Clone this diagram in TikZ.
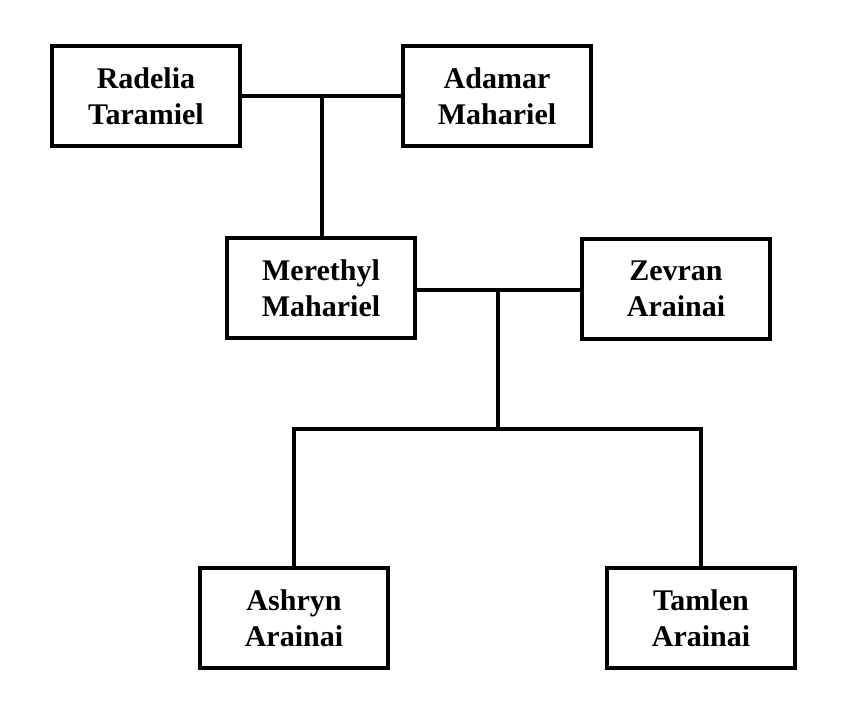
\documentclass[tikz,border=0pt]{standalone}
\usepackage{fontspec}
\setmainfont{Liberation Serif}
\tikzset{
  person/.style={draw,line width=4.5pt,minimum width=188pt,minimum height=100pt,
    align=center,font=\fontsize{30}{36}\selectfont\bfseries},
  link/.style={line width=4.5pt}
}
\begin{document}
\begin{tikzpicture}[x=1pt,y=-1pt]
\useasboundingbox (0,0) rectangle (851,717);
\foreach \n/\x/\y/\lab in {rad/146/96/{Radelia\\Taramiel},ada/497/96/{Adamar\\Mahariel},
  mer/321/288/{Merethyl\\Mahariel},zev/676/289/{Zevran\\Arainai},
  ash/294/618/{Ashryn\\Arainai},tam/701/618/{Tamlen\\Arainai}}{
  \node[person] (\n) at (\x,\y) {\lab};
}
\coordinate (j1) at (322,97);
\coordinate (j2) at (498,290);
\coordinate (j3) at (498,429);
\draw[link] (rad.east) -- (ada.west);
\draw[link] (j1) -- (mer.north -| j1);
\draw[link] (mer.east |- j2) -- (zev.west |- j2);
\draw[link] (j2) -- (j3);
\draw[link] (ash.north) |- (j3) -| (tam.north);
\end{tikzpicture}
\end{document}
